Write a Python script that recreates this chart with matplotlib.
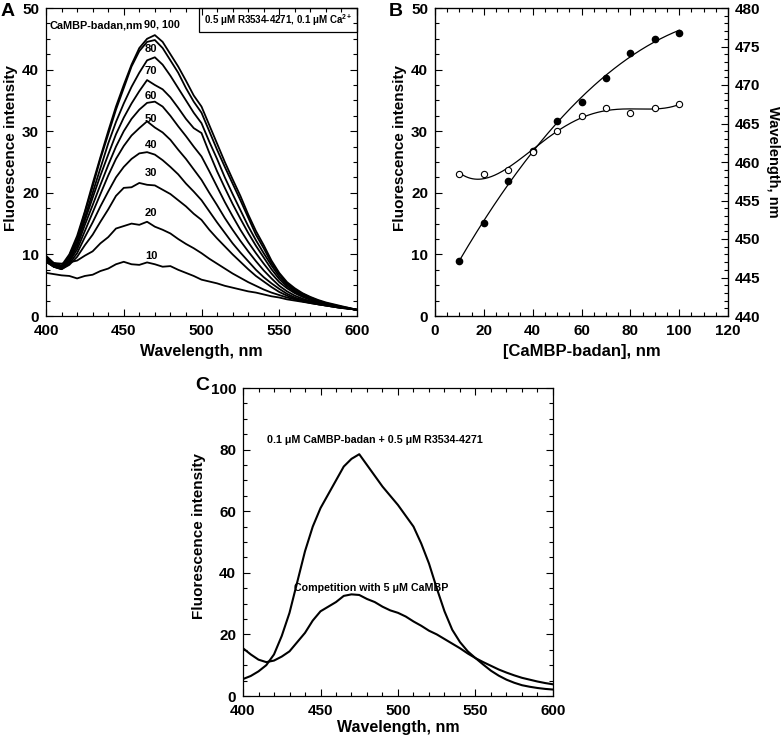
import numpy as np
import matplotlib
matplotlib.use("Agg")
import matplotlib.pyplot as plt
from matplotlib.ticker import MultipleLocator
from matplotlib.patches import Rectangle

plt.rcParams['font.family'] = ['Liberation Sans', 'DejaVu Sans']
plt.rcParams['font.weight'] = 'bold'
plt.rcParams['mathtext.fontset'] = 'custom'
plt.rcParams['mathtext.bf'] = 'Liberation Sans:bold'
plt.rcParams['mathtext.rm'] = 'Liberation Sans:bold'

# ---------------- Panel A data ----------------
wl = list(range(400, 601, 5))
c10 = [7.0, 6.8, 6.6, 6.5, 6.1, 6.5, 6.7, 7.3, 7.7, 8.4, 8.8, 8.4, 8.3, 8.7, 8.4, 8.0, 8.1, 7.5, 7.0, 6.5, 5.9,
       5.6, 5.3, 4.9, 4.6, 4.3, 4.0, 3.8, 3.5, 3.2, 3.0, 2.7, 2.5, 2.3, 2.1, 1.9, 1.7, 1.5, 1.3, 1.2, 1.0]
c20 = [9.4, 8.6, 8.5, 8.7, 9.0, 9.8, 10.5, 11.8, 12.8, 14.2, 14.6, 15.0, 14.8, 15.3, 14.5, 14.0, 13.4, 12.5, 11.7, 11.0, 10.2,
       9.3, 8.5, 7.7, 6.9, 6.2, 5.5, 4.9, 4.3, 3.8, 3.4, 3.0, 2.7, 2.4, 2.1, 1.9, 1.7, 1.5, 1.3, 1.2, 1.0]
c30 = [8.8, 8.0, 7.6, 8.3, 9.6, 11.5, 13.2, 15.3, 17.3, 19.5, 20.8, 20.9, 21.6, 21.3, 21.2, 20.5, 19.8, 18.8, 17.8, 16.6, 15.6,
       14.0, 12.6, 11.3, 10.0, 8.8, 7.6, 6.5, 5.6, 4.7, 3.9, 3.3, 2.8, 2.4, 2.2, 1.9, 1.7, 1.5, 1.3, 1.2, 1.0]
c40 = [8.8, 8.0, 7.6, 8.5, 10.2, 12.8, 15.2, 17.8, 20.2, 22.5, 24.2, 25.5, 26.4, 26.6, 26.2, 25.3, 24.2, 23.0, 21.5, 20.2, 18.8,
       17.0, 15.2, 13.5, 11.8, 10.3, 8.9, 7.5, 6.3, 5.3, 4.4, 3.6, 3.0, 2.6, 2.3, 2.0, 1.8, 1.6, 1.4, 1.2, 1.0]
c50 = [9.0, 8.0, 7.7, 8.8, 10.8, 13.8, 16.8, 19.8, 22.8, 25.5, 27.6, 29.3, 30.5, 31.6, 30.6, 29.8, 28.6, 27.0, 25.5, 23.8, 22.1,
       20.0, 18.0, 15.9, 14.0, 12.2, 10.5, 8.9, 7.4, 6.1, 4.9, 4.0, 3.3, 2.8, 2.4, 2.1, 1.8, 1.6, 1.4, 1.2, 1.0]
c60 = [9.0, 8.1, 7.8, 9.0, 11.3, 14.8, 18.0, 21.3, 24.5, 27.5, 30.0, 32.0, 33.5, 34.6, 34.8, 34.0, 32.5, 30.8, 29.2, 27.5, 25.9,
       23.5, 21.0, 18.5, 16.2, 14.0, 12.0, 10.2, 8.5, 6.9, 5.5, 4.5, 3.7, 3.1, 2.6, 2.2, 1.9, 1.6, 1.4, 1.2, 1.0]
c70 = [9.0, 8.2, 7.8, 9.3, 11.8, 15.5, 19.2, 22.8, 26.2, 29.5, 32.2, 34.5, 36.5, 38.3, 37.5, 36.8, 35.5, 33.8, 32.0, 30.5, 29.7,
       26.5, 23.5, 20.8, 18.2, 15.8, 13.5, 11.4, 9.5, 7.6, 6.0, 4.8, 3.9, 3.3, 2.8, 2.3, 2.0, 1.7, 1.4, 1.2, 1.0]
c80 = [9.2, 8.3, 7.9, 9.5, 12.0, 16.0, 20.0, 24.0, 28.0, 31.5, 34.5, 37.2, 39.5, 41.5, 42.0, 40.8, 39.0, 37.0, 35.0, 33.0, 31.3,
       28.3, 25.5, 22.5, 19.8, 17.2, 14.6, 12.3, 10.2, 8.2, 6.4, 5.1, 4.1, 3.4, 2.9, 2.4, 2.0, 1.7, 1.5, 1.2, 1.0]
c90 = [9.5, 8.5, 8.0, 9.8, 12.5, 16.8, 21.0, 25.5, 29.5, 33.5, 37.0, 40.5, 43.0, 44.5, 44.8, 43.5, 41.5, 39.5, 37.0, 34.8, 33.0,
       30.0, 27.0, 24.2, 21.5, 18.8, 16.0, 13.2, 11.0, 8.6, 6.8, 5.3, 4.3, 3.6, 3.0, 2.5, 2.1, 1.8, 1.5, 1.3, 1.0]
c100 = [9.8, 8.6, 8.2, 10.0, 13.0, 17.0, 21.5, 25.8, 30.0, 34.0, 37.5, 40.8, 43.5, 45.0, 45.6, 44.5, 42.5, 40.5, 38.2, 35.8, 34.0,
        31.0, 28.0, 25.0, 22.2, 19.5, 16.5, 13.8, 11.5, 9.0, 7.0, 5.5, 4.5, 3.7, 3.1, 2.6, 2.2, 1.9, 1.6, 1.3, 1.0]
curves_A = [c10, c20, c30, c40, c50, c60, c70, c80, c90, c100]
labels_A = ['10', '20', '30', '40', '50', '60', '70', '80']
label_y_A = [9.7, 16.8, 23.2, 27.7, 31.9, 35.7, 39.7, 43.3]

# ---------------- Panel B data ----------------
conc = [10, 20, 30, 40, 50, 60, 70, 80, 90, 100]
intensity = [9.0, 15.1, 21.9, 26.8, 31.6, 34.75, 38.6, 42.7, 45.0, 46.0]
peak_wl = [458.4, 458.4, 459.0, 461.3, 464.0, 466.0, 467.0, 466.4, 467.0, 467.5]

# ---------------- Panel C data ----------------
wl_c = list(range(400, 601, 5))
complex_c = [5.5, 6.5, 8.0, 10.0, 13.5, 19.5, 27.0, 37.0, 47.0, 55.0, 61.0, 65.5, 70.0, 74.5, 77.0, 78.5, 75.0, 71.5, 68.0, 65.0, 62.0,
             58.5, 55.0, 49.5, 43.0, 35.0, 27.5, 21.5, 17.5, 14.5, 12.3, 10.2, 8.2, 6.6, 5.3, 4.3, 3.5, 3.0, 2.6, 2.3, 2.1]
compet_c = [15.5, 13.5, 11.8, 11.0, 11.5, 12.8, 14.5, 17.5, 20.5, 24.5, 27.5, 29.0, 30.5, 32.5, 33.0, 32.8, 31.5, 30.5, 29.0, 27.8, 27.0,
            25.8, 24.2, 22.8, 21.2, 20.0, 18.5, 17.0, 15.5, 13.8, 12.3, 11.0, 9.8, 8.6, 7.6, 6.7, 5.9, 5.3, 4.7, 4.2, 3.8]

W, H = 781, 738
fig = plt.figure(figsize=(W / 100, H / 100), dpi=100)
TICK_FS = 11


def px_axes(l, t, r, b):
    return fig.add_axes([l / W, 1 - b / H, (r - l) / W, (b - t) / H])


def style(ax, right=True):
    ax.tick_params(which='both', direction='in', top=True, right=right, labelsize=TICK_FS)
    ax.tick_params(which='major', length=5, width=0.8)
    ax.tick_params(which='minor', length=3, width=0.8)
    ax.tick_params(axis='x', which='major', pad=6)
    ax.tick_params(axis='y', which='major', pad=5)
    for s in ax.spines.values():
        s.set_linewidth(0.9)
    for lab in ax.get_xticklabels() + ax.get_yticklabels():
        lab.set_fontweight('bold')


# Panel A
axA = px_axes(46, 8, 357, 316)
for c in curves_A:
    axA.plot(wl, c, color='black', lw=1.3)
axA.set_xlim(400, 600)
axA.set_ylim(0, 50)
axA.xaxis.set_major_locator(MultipleLocator(50))
axA.xaxis.set_minor_locator(MultipleLocator(10))
axA.yaxis.set_major_locator(MultipleLocator(10))
axA.yaxis.set_minor_locator(MultipleLocator(2.5))
style(axA)
axA.set_xlabel('Wavelength, nm', fontsize=11.5, fontweight='bold', labelpad=4)
axA.set_ylabel('Fluorescence intensity', fontsize=11, fontweight='bold', labelpad=3)
axA.yaxis.label.set_y(0.547)
for lab, y in zip(labels_A, label_y_A):
    axA.text(467.5, y, lab, ha='center', va='center', fontsize=8, fontweight='bold')
axA.text(402.5, 47.1, 'CaMBP-badan,nm', ha='left', va='center', fontsize=7.8, fontweight='bold')
axA.text(463.0, 47.3, '90, 100', ha='left', va='center', fontsize=7.8, fontweight='bold')
axA.add_patch(Rectangle((0.492, 0.922), 0.508, 0.078, transform=axA.transAxes,
                        fill=False, edgecolor='black', lw=0.9, clip_on=False))
axA.text(0.746, 0.961, r'0.5 μM R3534-4271, 0.1 μM Ca$^{\mathbf{2+}}$', transform=axA.transAxes,
         ha='center', va='center', fontsize=7, fontweight='bold')
fig.text(8 / W, 1 - 12 / H, 'A', fontsize=14, fontweight='bold', ha='center', va='center')

# Panel B
axB = px_axes(435, 8, 728, 316)
xs = np.linspace(10, 100, 200)
fit_int = np.polyval(np.polyfit(conc, intensity, 3), xs)
axB.plot(xs, fit_int, color='black', lw=0.9)
axB.plot(conc, intensity, 'o', color='black', ms=4.5)
axB.set_xlim(0, 120)
axB.set_ylim(0, 50)
axB.xaxis.set_major_locator(MultipleLocator(20))
axB.xaxis.set_minor_locator(MultipleLocator(5))
axB.yaxis.set_major_locator(MultipleLocator(10))
axB.yaxis.set_minor_locator(MultipleLocator(2.5))
style(axB, right=False)
axB.set_xlabel('[CaMBP-badan], nm', fontsize=12, fontweight='bold', labelpad=4)
axB.set_ylabel('Fluorescence intensity', fontsize=11, fontweight='bold', labelpad=3)
axB.yaxis.label.set_y(0.547)
axB2 = axB.twinx()
fit_wl = np.polyval(np.polyfit(conc, peak_wl, 4), xs)
axB2.plot(xs, fit_wl, color='black', lw=0.9)
axB2.plot(conc, peak_wl, 'o', mfc='white', mec='black', mew=0.8, ms=4.5)
axB2.set_ylim(440, 480)
axB2.yaxis.set_major_locator(MultipleLocator(5))
axB2.yaxis.set_minor_locator(MultipleLocator(1))
axB2.tick_params(which='both', direction='in', labelsize=TICK_FS)
axB2.tick_params(which='major', length=5, width=0.8, pad=5)
axB2.tick_params(which='minor', length=3, width=0.8)
for lab in axB2.get_yticklabels():
    lab.set_fontweight('bold')
axB2.set_ylabel('Wavelength, nm', fontsize=10.5, fontweight='bold', rotation=270, labelpad=14)
fig.text(396 / W, 1 - 12 / H, 'B', fontsize=14, fontweight='bold', ha='center', va='center')

# Panel C
axC = px_axes(243, 388, 553, 696)
axC.plot(wl_c, complex_c, color='black', lw=1.5)
axC.plot(wl_c, compet_c, color='black', lw=1.5)
axC.set_xlim(400, 600)
axC.set_ylim(0, 100)
axC.xaxis.set_major_locator(MultipleLocator(50))
axC.xaxis.set_minor_locator(MultipleLocator(10))
axC.yaxis.set_major_locator(MultipleLocator(20))
axC.yaxis.set_minor_locator(MultipleLocator(5))
style(axC)
axC.set_xlabel('Wavelength, nm', fontsize=11.5, fontweight='bold', labelpad=1)
axC.set_ylabel('Fluorescence intensity', fontsize=11, fontweight='bold', labelpad=3)
axC.yaxis.label.set_y(0.52)
axC.text(485, 83, '0.1 μM CaMBP-badan + 0.5 μM R3534-4271', ha='center', va='center',
         fontsize=7.7, fontweight='bold')
axC.text(482.5, 35, 'Competition with 5 μM CaMBP', ha='center', va='center',
         fontsize=7.7, fontweight='bold')
fig.text(202 / W, 1 - 386 / H, 'C', fontsize=14, fontweight='bold', ha='center', va='center')

fig.savefig('out.png', dpi=100)
